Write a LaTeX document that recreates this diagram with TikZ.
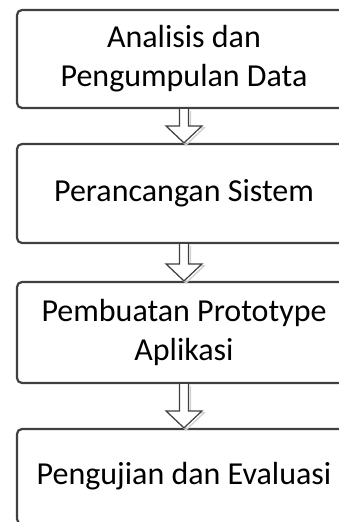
\documentclass[tikz,border=0pt]{standalone}
\usepackage{fontspec}
\setmainfont{Carlito}
\usepackage{tikz}
\usetikzlibrary{calc}

\definecolor{boxgray}{RGB}{64,64,64}

\tikzset{
  stagebox/.style={draw=boxgray, line width=2.2pt, rounded corners=5pt,
    minimum width=334pt, inner sep=0pt, align=center,
    font=\fontsize{32}{39}\selectfont},
  hollow/.style={draw=boxgray, line width=1.2pt, fill=white, line join=miter},
  hollowshade/.style={draw=gray!35, line width=1.4pt}
}

% hollow block arrow from the bottom of #1 to the top of #2
\newcommand{\flowarrow}[2]{%
  \draw[hollowshade] let \p1=(#1.south), \p2=(#2.north) in
    (\x1-2.5pt,\y1-2pt) -- (\x1-2.5pt,\y2+15pt) -- (\x1-16pt,\y2+15pt) -- (\x2+2pt,\y2-2pt)
    -- (\x1+20pt,\y2+15pt) -- (\x1+6.5pt,\y2+15pt) -- (\x1+6.5pt,\y1-2pt);
  \draw[hollow] let \p1=(#1.south), \p2=(#2.north) in
    (\x1-4.5pt,\y1) -- (\x1-4.5pt,\y2+17pt) -- (\x1-18pt,\y2+17pt) -- (\x2,\y2)
    -- (\x1+18pt,\y2+17pt) -- (\x1+4.5pt,\y2+17pt) -- (\x1+4.5pt,\y1);
}

\begin{document}
\begin{tikzpicture}[x=1pt,y=-1pt]
  \useasboundingbox (0,0) rectangle (339,522);
  \clip (0,0) rectangle (339,522);
  \node[stagebox, minimum height=98pt] (analisis) at (184,59)
    {Analisis dan\\Pengumpulan Data};          % first stage
  \node[stagebox, minimum height=99pt] (rancang) at (184,193.5)
    {Perancangan Sistem};
  \node[stagebox, minimum height=101pt] (prototipe) at (184,332.5)
    {Pembuatan Prototype\\Aplikasi};
  \node[stagebox, minimum height=95pt] (uji) at (184,476.5)
    {Pengujian dan Evaluasi};                  % last stage, cut at the bottom
  \flowarrow{analisis}{rancang}
  \flowarrow{rancang}{prototipe}
  \flowarrow{prototipe}{uji}
\end{tikzpicture}
\end{document}
